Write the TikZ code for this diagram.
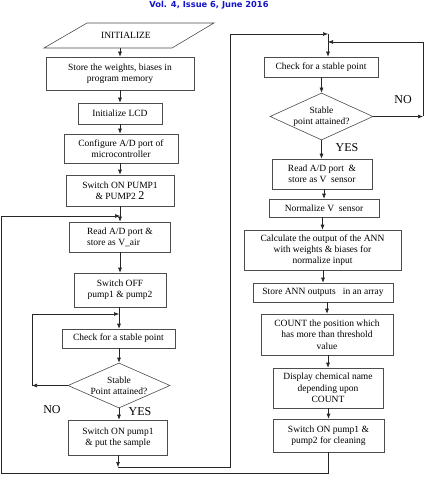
\documentclass[tikz,border=0pt]{standalone}
\usepackage{fontspec}
\setmainfont{Liberation Serif}
\newfontfamily\headfont{DejaVu Sans}
\usetikzlibrary{shapes.geometric,arrows.meta}
\definecolor{headblue}{RGB}{20,20,200}

\begin{document}
\begin{tikzpicture}[x=1pt,y=1pt,yscale=-1,xscale=1,
  box/.style={draw=black!70,line width=0.6pt,rectangle,inner sep=1pt,align=center,font=\fontsize{9.5}{11.3}\selectfont},
  decision/.style={draw=black!70,line width=0.6pt,diamond,inner sep=0pt,aspect=2.3,align=center,font=\fontsize{9.5}{11.3}\selectfont},
  flow/.style={draw=black!85,line width=0.6pt},
  arr/.style={flow,-{Latex[length=5pt,width=4pt]}},
  lbl/.style={font=\fontsize{12}{14}\selectfont,inner sep=0pt}]
\useasboundingbox (0,0) rectangle (427,481);

% Text Node
\node[font=\headfont\bfseries\fontsize{8.3}{10}\selectfont,text=headblue,inner sep=0pt] (head) at (209,5) {Vol. 4, Issue 6, June 2016};

%Shape: Parallelogram
\draw[draw=black!70,line width=0.6pt] (44,48) -- (87,23) -- (214,23) -- (172,48) -- cycle ;
\node[inner sep=0pt,minimum height=25pt,font=\fontsize{9.5}{11}\selectfont] (init) at (126,35.5) {INITIALIZE};

%Left column
\node[box,minimum width=148pt,minimum height=33pt] (store) at (120,73.5) {Store the weights, biases in\\program memory};
\node[box,minimum width=84pt,minimum height=21pt] (lcd) at (120,113.5) {Initialize LCD};
\node[box,minimum width=114pt,minimum height=29pt] (adc) at (121,148.5) {Configure A/D port of\\microcontroller};
\node[box,minimum width=108pt,minimum height=31pt] (pumps) at (120,190.5) {Switch ON PUMP1\\\& PUMP2 {\fontsize{12}{11}\selectfont 2}};
\node[box,minimum width=101pt,minimum height=30pt,align=left] (readair) at (120,237) {Read A/D port \&\\store as V\_air};
\node[box,minimum width=92pt,minimum height=34pt] (pumpsoff) at (120,290) {Switch OFF\\pump1 \& pump2};
\node[box,minimum width=113pt,minimum height=19pt] (checka) at (118.5,338.5) {Check for a stable point};
\node[decision,minimum width=102pt,minimum height=45pt] (stablea) at (119,385.5) {Stable\\Point attained?};
\node[box,minimum width=99pt,minimum height=35pt] (sample) at (118,437.5) {Switch ON pump1\\\& put the sample};

%Right column
\node[box,minimum width=114pt,minimum height=20pt] (checkb) at (321,67) {Check for a stable point};
\node[decision,minimum width=103pt,minimum height=47pt] (stableb) at (321.5,116.5) {Stable\\point attained?};
\node[box,minimum width=100pt,minimum height=30pt] (readsens) at (322,174) {Read A/D port\enspace\&\\store as V\enspace sensor};
\node[box,minimum width=110pt,minimum height=18pt] (norm) at (324,208) {Normalize V\enspace sensor};
\node[box,minimum width=157pt,minimum height=40pt] (calc) at (322.5,250) {Calculate the output of the ANN\\with weights \& biases for\\normalize input};
\node[box,minimum width=140pt,minimum height=19pt] (keep) at (323,292.5) {Store ANN outputs\enspace\ in an array};
\node[box,minimum width=132pt,minimum height=41pt] (count) at (327,334.5) {COUNT the position which\\has more than threshold\\value};
\node[box,minimum width=110pt,minimum height=40pt] (show) at (328,388) {Display chemical name\\depending upon\\COUNT};
\node[box,minimum width=111pt,minimum height=33pt] (clean) at (328.5,435.5) {Switch ON pump1 \&\\pump2 for cleaning};

% Text Node
\node[lbl] (noa) at (52,410) {NO};
\node[lbl] (yesa) at (140,412) {YES};
\node[lbl] (nob) at (403,100) {NO};
\node[lbl] (yesb) at (347,148) {YES};

%Junctions
\coordinate (ja) at (120,216);
\coordinate (jb) at (119,314);
\coordinate (jc) at (118,467);
\coordinate (jd) at (328,34);
\coordinate (je) at (328,42);
\coordinate (lowleft) at (1,473);
\coordinate (topmid) at (230,34);
\coordinate (outa) at (32,385.5);
\coordinate (outb) at (423,116.5);

%Straight Lines
\draw[arr] (init.south -| store.north) -- (store.north);
\draw[arr] (store) -- (lcd);
\draw[arr] (lcd.south) -- (lcd.south |- adc.north);
\draw[arr] (adc.south -| pumps.north) -- (pumps.north);
\draw[arr] (pumps) -- (readair);
\draw[arr] (readair) -- (pumpsoff);
\draw[arr] (pumpsoff.south -| stablea) -- (stablea.north |- checka.north);
\draw[arr] (checka.south -| stablea) -- (stablea.north);
\draw[arr] (stablea.south) -- (stablea.south |- sample.north);
\draw[arr] (sample.south) -- (jc);
\draw[arr] (stablea.west) -- (outa);
\draw[arr] (outa) |- (jb);
\draw[flow] (jc) -| (topmid);
\draw[arr] (topmid) -- (jd);
\draw[arr] (jd) -- (jd |- checkb.north);
\draw[arr] (checkb.south -| stableb) -- (stableb.north);
\draw[arr] (stableb.east) -- (outb);
\draw[arr] (outb) |- (je);
\draw[arr] (stableb.south) -- (stableb.south |- readsens.north);
\draw[arr] (readsens.south -| norm) -- (norm.north);
\draw[arr] (norm.south -| calc) -- (calc.north);
\draw[arr] (calc.south -| keep) -- (keep.north);
\draw[arr] (keep.south -| count) -- (count.north);
\draw[arr] (count.south -| show) -- (show.north);
\draw[arr] (show.south -| clean) -- (clean.north);
\draw[flow] (clean.south) |- (lowleft);
\draw[arr] (lowleft) |- (ja);

\end{tikzpicture}
\end{document}
